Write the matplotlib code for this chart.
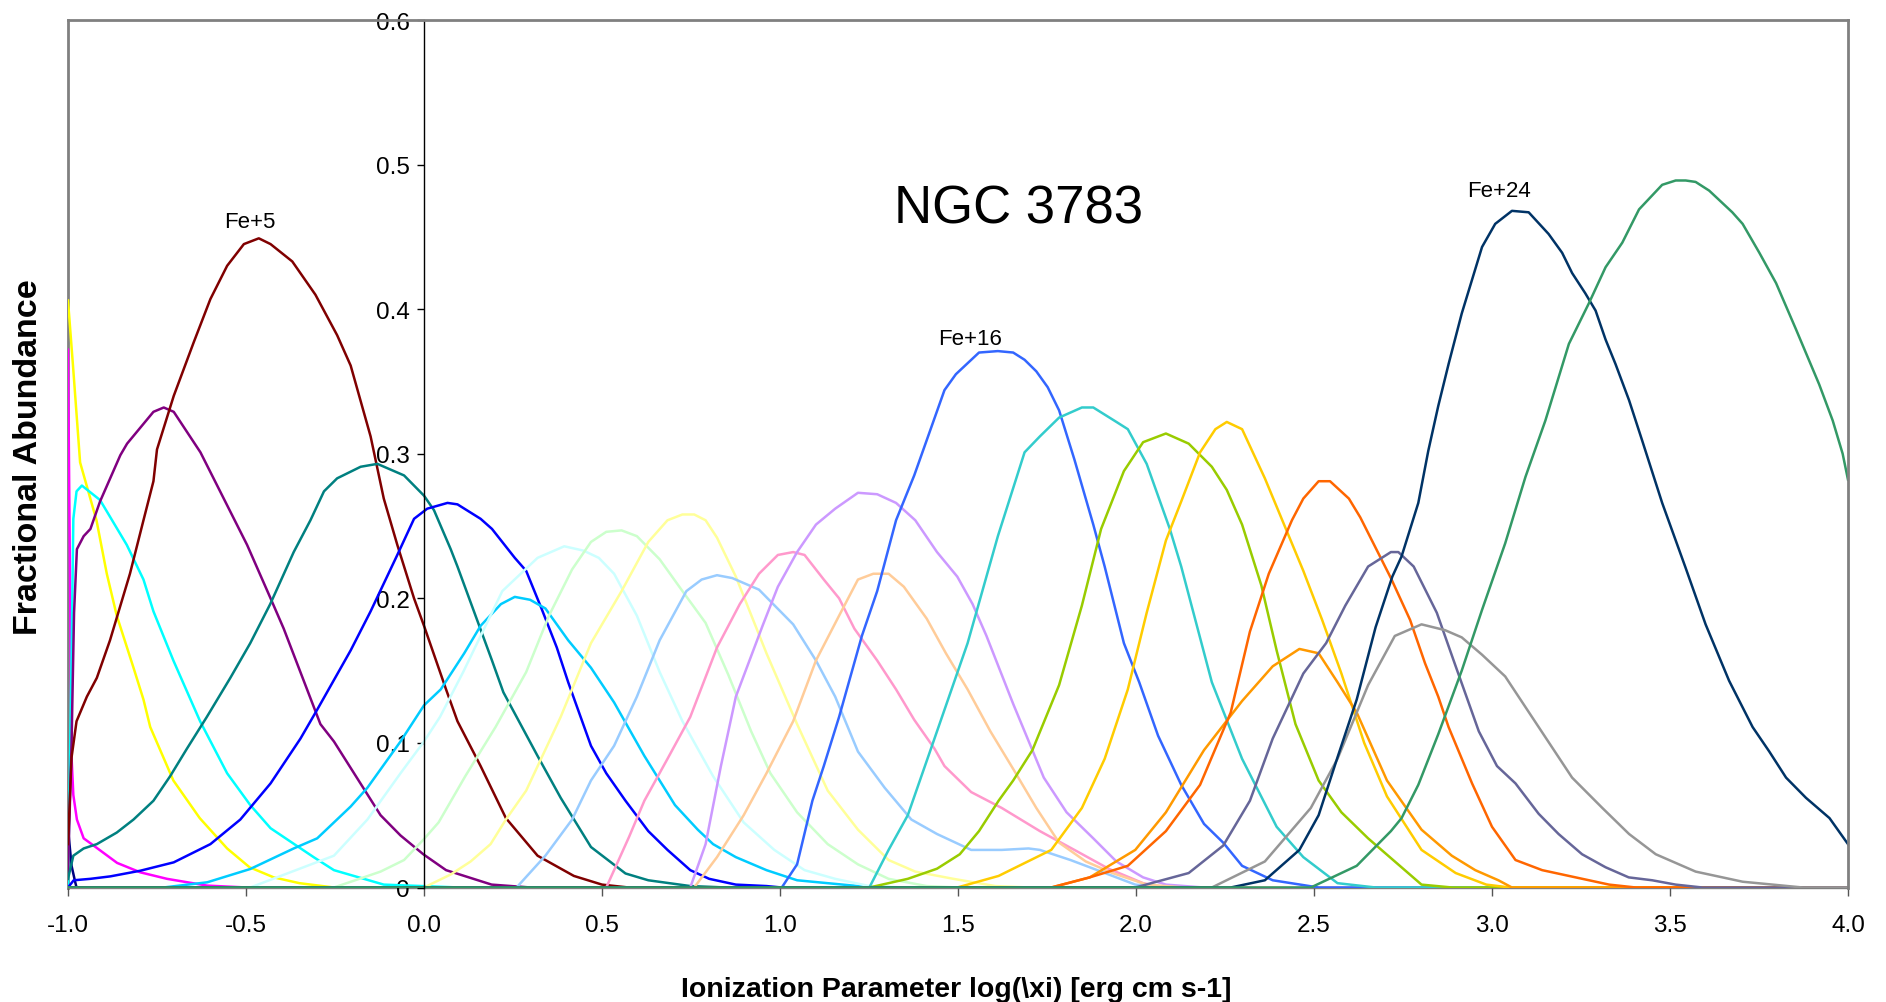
import numpy as np
import matplotlib
matplotlib.use("Agg")
import matplotlib.pyplot as plt
from matplotlib import font_manager

# ---- ion fractions of Fe vs log(xi), one series per charge state ----
fe0_x = [-1.0, -0.99, -0.98, -0.976, 4.0]
fe0_y = [0.041, 0.015, 0.004, 0.0, 0.0]

fe1_x = [-1.0, -0.99, -0.985, -0.975, -0.956, -0.928, -0.862, -0.797, -0.722, -0.609, -0.497, 4.0]
fe1_y = [0.372, 0.09, 0.064, 0.047, 0.034, 0.029, 0.017, 0.0105, 0.006, 0.0013, 0.0, 0.0]

fe2_x = [-1.0, -0.986, -0.966, -0.92, -0.891, -0.863, -0.816, -0.788, -0.769, -0.704, -0.63,
         -0.553, -0.49, -0.422, -0.35, -0.253, 4.0]
fe2_y = [0.406, 0.361, 0.294, 0.254, 0.217, 0.188, 0.152, 0.130, 0.111, 0.074, 0.048,
         0.027, 0.014, 0.007, 0.003, 0.0, 0.0]

fe3_x = [-1.0, -0.99, -0.985, -0.976, -0.961, -0.91, -0.835, -0.788, -0.76, -0.704, -0.629,
         -0.553, -0.488, -0.431, -0.31, -0.253, -0.113, 0.1, 4.0]
fe3_y = [0.0, 0.16, 0.255, 0.274, 0.278, 0.268, 0.237, 0.213, 0.191, 0.157, 0.115,
         0.079, 0.057, 0.041, 0.021, 0.012, 0.002, 0.0, 0.0]

fe4_x = [-1.0, -0.99, -0.983, -0.975, -0.956, -0.937, -0.91, -0.853, -0.834, -0.76, -0.731,
         -0.703, -0.628, -0.497, -0.431, -0.394, -0.291, -0.253, -0.122, -0.066, -0.002,
         0.062, 0.19, 0.3, 4.0]
fe4_y = [0.01, 0.1, 0.19, 0.234, 0.243, 0.248, 0.267, 0.299, 0.307, 0.329, 0.332,
         0.329, 0.301, 0.237, 0.2, 0.179, 0.113, 0.101, 0.05, 0.036, 0.023,
         0.012, 0.002, 0.0, 0.0]

fe5_x = [-1.0, -0.99, -0.976, -0.947, -0.919, -0.882, -0.826, -0.788, -0.76, -0.75, -0.703,
         -0.647, -0.6, -0.553, -0.506, -0.464, -0.431, -0.37, -0.305, -0.244, -0.206, -0.15,
         -0.113, -0.075, -0.028, 0.0, 0.062, 0.094, 0.159, 0.23, 0.319, 0.421, 0.5, 0.575, 4.0]
fe5_y = [0.03, 0.09, 0.115, 0.132, 0.145, 0.171, 0.217, 0.254, 0.281, 0.303, 0.34,
         0.377, 0.407, 0.43, 0.445, 0.449, 0.445, 0.433, 0.41, 0.382, 0.361, 0.312,
         0.269, 0.237, 0.2, 0.181, 0.137, 0.115, 0.084, 0.048, 0.022, 0.008, 0.002, 0.0, 0.0]

fe6_x = [-1.0, -0.985, -0.956, -0.919, -0.863, -0.816, -0.76, -0.713, -0.666, -0.61, -0.544,
         -0.488, -0.432, -0.366, -0.319, -0.281, -0.244, -0.178, -0.131, -0.056, 0.0, 0.028,
         0.075, 0.094, 0.191, 0.223, 0.319, 0.384, 0.469, 0.566, 0.63, 0.748, 0.85, 4.0]
fe6_y = [0.006, 0.022, 0.027, 0.030, 0.038, 0.047, 0.06, 0.077, 0.096, 0.118, 0.145,
         0.169, 0.196, 0.232, 0.254, 0.274, 0.283, 0.291, 0.293, 0.285, 0.271, 0.261,
         0.234, 0.222, 0.157, 0.135, 0.091, 0.062, 0.028, 0.0097, 0.005, 0.001, 0.0, 0.0]

fe7_x = [-1.0, -0.984, -0.937, -0.881, -0.797, -0.703, -0.6, -0.516, -0.431, -0.347, -0.3,
         -0.206, -0.15, -0.075, -0.028, 0.009, 0.066, 0.094, 0.159, 0.191, 0.223, 0.255,
         0.287, 0.33, 0.373, 0.405, 0.469, 0.512, 0.566, 0.63, 0.684, 0.748, 0.801, 0.876,
         0.962, 1.005, 4.0]
fe7_y = [0.0, 0.005, 0.006, 0.0077, 0.0116, 0.0174, 0.03, 0.047, 0.072, 0.103, 0.123,
         0.164, 0.191, 0.23, 0.255, 0.262, 0.266, 0.265, 0.255, 0.248, 0.238, 0.228,
         0.219, 0.193, 0.166, 0.142, 0.098, 0.079, 0.06, 0.039, 0.026, 0.012, 0.006, 0.002,
         0.001, 0.0, 0.0]

fe8_x = [-1.0, -0.732, -0.609, -0.488, -0.366, -0.3, -0.206, -0.159, -0.066, 0.0, 0.047,
         0.113, 0.159, 0.216, 0.255, 0.298, 0.341, 0.405, 0.469, 0.534, 0.619, 0.705, 0.769,
         0.812, 0.876, 0.962, 1.048, 1.219, 1.33, 4.0]
fe8_y = [0.0, 0.0, 0.0036, 0.0128, 0.027, 0.034, 0.056, 0.069, 0.101, 0.126, 0.137,
         0.162, 0.181, 0.196, 0.201, 0.199, 0.193, 0.171, 0.152, 0.128, 0.091, 0.057, 0.04,
         0.03, 0.021, 0.012, 0.005, 0.001, 0.0, 0.0]

fe9_x = [-1.0, -0.488, -0.253, -0.159, -0.066, 0.0, 0.045, 0.11, 0.22, 0.319, 0.394, 0.448,
         0.491, 0.534, 0.598, 0.662, 0.726, 0.812, 0.898, 0.984, 1.069, 1.155, 1.251, 1.35, 4.0]
fe9_y = [0.0, 0.0, 0.022, 0.047, 0.079, 0.101, 0.118, 0.149, 0.205, 0.228, 0.236, 0.233,
         0.228, 0.217, 0.188, 0.149, 0.115, 0.077, 0.045, 0.026, 0.012, 0.006, 0.001, 0.0, 0.0]

fe10_x = [-1.0, -0.253, -0.122, -0.056, -0.002, 0.041, 0.116, 0.201, 0.287, 0.351, 0.416,
          0.469, 0.512, 0.555, 0.598, 0.662, 0.726, 0.791, 0.855, 0.919, 0.973, 1.048, 1.134,
          1.219, 1.305, 1.412, 1.5, 4.0]
fe10_y = [0.0, 0.0, 0.011, 0.019, 0.033, 0.045, 0.077, 0.111, 0.149, 0.188, 0.22,
          0.239, 0.246, 0.247, 0.243, 0.227, 0.205, 0.183, 0.147, 0.108, 0.079, 0.052, 0.03,
          0.016, 0.006, 0.001, 0.0, 0.0]

fe11_x = [-1.0, 0.0, 0.075, 0.131, 0.187, 0.23, 0.287, 0.384, 0.469, 0.555, 0.63, 0.684,
          0.726, 0.759, 0.791, 0.823, 0.876, 0.962, 1.048, 1.134, 1.219, 1.305, 1.38, 1.487,
          1.605, 1.7, 4.0]
fe11_y = [0.0, 0.0, 0.009, 0.018, 0.030, 0.047, 0.067, 0.118, 0.169, 0.205, 0.239, 0.254,
          0.258, 0.258, 0.254, 0.242, 0.215, 0.162, 0.113, 0.067, 0.04, 0.019, 0.011, 0.006,
          0.001, 0.0, 0.0]

fe12_x = [-1.0, 0.26, 0.341, 0.416, 0.469, 0.534, 0.598, 0.662, 0.737, 0.78, 0.823, 0.866,
          0.941, 1.037, 1.101, 1.155, 1.219, 1.294, 1.369, 1.441, 1.537, 1.623, 1.698, 1.73,
          1.816, 1.902, 1.998, 2.08, 4.0]
fe12_y = [0.0, 0.0, 0.022, 0.047, 0.074, 0.098, 0.132, 0.171, 0.205, 0.213, 0.216, 0.214,
          0.206, 0.182, 0.157, 0.132, 0.094, 0.069, 0.047, 0.037, 0.026, 0.026, 0.027, 0.026,
          0.019, 0.011, 0.002, 0.0, 0.0]

fe13_x = [-1.0, 0.512, 0.576, 0.619, 0.684, 0.748, 0.823, 0.887, 0.941, 0.994, 1.037, 1.069,
          1.123, 1.166, 1.209, 1.273, 1.326, 1.377, 1.434, 1.462, 1.537, 1.623, 1.73, 1.827,
          1.923, 2.02, 2.084, 4.0]
fe13_y = [0.0, 0.0, 0.035, 0.06, 0.089, 0.118, 0.166, 0.196, 0.217, 0.23, 0.232, 0.23,
          0.213, 0.2, 0.179, 0.157, 0.137, 0.116, 0.096, 0.084, 0.066, 0.055, 0.039, 0.026,
          0.013, 0.003, 0.0, 0.0]

fe14_x = [-1.0, 0.748, 0.791, 0.834, 0.876, 0.951, 0.994, 1.048, 1.101, 1.155, 1.219, 1.273,
          1.326, 1.38, 1.441, 1.498, 1.541, 1.58, 1.655, 1.741, 1.805, 1.88, 1.945, 2.02, 2.084,
          2.19, 4.0]
fe14_y = [0.0, 0.0, 0.03, 0.084, 0.132, 0.181, 0.208, 0.232, 0.251, 0.262, 0.273, 0.272,
          0.266, 0.254, 0.232, 0.215, 0.196, 0.174, 0.127, 0.076, 0.052, 0.034, 0.018, 0.007,
          0.002, 0.0, 0.0]

fe15_x = [-1.0, 0.759, 0.823, 0.898, 0.962, 1.037, 1.101, 1.166, 1.219, 1.262, 1.305, 1.348,
          1.412, 1.466, 1.527, 1.591, 1.655, 1.72, 1.784, 1.859, 1.934, 2.03, 2.137, 4.0]
fe15_y = [0.0, 0.0, 0.021, 0.05, 0.079, 0.115, 0.157, 0.188, 0.213, 0.217, 0.217, 0.208,
          0.186, 0.162, 0.137, 0.108, 0.082, 0.055, 0.031, 0.018, 0.01, 0.002, 0.0, 0.0]

fe16_x = [-1.0, 1.005, 1.048, 1.091, 1.123, 1.166, 1.23, 1.273, 1.326, 1.377, 1.462, 1.494,
          1.559, 1.612, 1.655, 1.687, 1.72, 1.752, 1.784, 1.827, 1.88, 1.912, 1.966, 2.009,
          2.062, 2.127, 2.191, 2.245, 2.298, 2.384, 2.513, 4.0]
fe16_y = [0.0, 0.0, 0.016, 0.06, 0.084, 0.118, 0.174, 0.205, 0.254, 0.285, 0.344, 0.355,
          0.37, 0.371, 0.37, 0.365, 0.357, 0.346, 0.33, 0.296, 0.251, 0.222, 0.169, 0.142,
          0.105, 0.071, 0.044, 0.031, 0.015, 0.005, 0.0, 0.0]

fe17_x = [-1.0, 1.251, 1.305, 1.359, 1.441, 1.527, 1.612, 1.687, 1.73, 1.784, 1.848, 1.88,
          1.945, 1.977, 2.03, 2.095, 2.127, 2.213, 2.298, 2.395, 2.47, 2.566, 2.673, 4.0]
fe17_y = [0.0, 0.0, 0.026, 0.05, 0.108, 0.169, 0.243, 0.301, 0.312, 0.325, 0.332, 0.332,
          0.322, 0.317, 0.293, 0.248, 0.222, 0.142, 0.089, 0.042, 0.021, 0.003, 0.0, 0.0]

fe18_x = [-1.0, 1.251, 1.359, 1.441, 1.505, 1.559, 1.614, 1.655, 1.709, 1.784, 1.848, 1.902,
          1.966, 2.02, 2.084, 2.148, 2.213, 2.255, 2.298, 2.352, 2.395, 2.448, 2.513, 2.577,
          2.652, 2.727, 2.802, 2.888, 4.0]
fe18_y = [0.0, 0.0, 0.006, 0.013, 0.023, 0.039, 0.06, 0.074, 0.095, 0.14, 0.195, 0.248,
          0.288, 0.308, 0.314, 0.307, 0.291, 0.275, 0.251, 0.209, 0.164, 0.113, 0.074, 0.052,
          0.034, 0.018, 0.002, 0.0, 0.0]

fe19_x = [-1.0, 1.498, 1.614, 1.655, 1.762, 1.848, 1.912, 1.977, 2.03, 2.084, 2.127, 2.18,
          2.223, 2.255, 2.298, 2.362, 2.416, 2.47, 2.523, 2.577, 2.641, 2.705, 2.802, 2.898,
          2.984, 3.05, 4.0]
fe19_y = [0.0, 0.0, 0.008, 0.013, 0.026, 0.055, 0.089, 0.137, 0.19, 0.24, 0.267, 0.301,
          0.317, 0.322, 0.317, 0.283, 0.251, 0.219, 0.185, 0.148, 0.1, 0.063, 0.026, 0.01,
          0.002, 0.0, 0.0]

fe20_x = [-1.0, 1.762, 1.87, 1.998, 2.084, 2.191, 2.298, 2.384, 2.459, 2.513, 2.566, 2.62,
          2.705, 2.802, 2.887, 2.953, 3.018, 3.056, 4.0]
fe20_y = [0.0, 0.0, 0.007, 0.026, 0.052, 0.095, 0.129, 0.153, 0.165, 0.162, 0.142, 0.121,
          0.074, 0.04, 0.022, 0.012, 0.005, 0.0, 0.0]

fe21_x = [-1.0, 1.762, 1.87, 1.977, 2.084, 2.18, 2.266, 2.32, 2.373, 2.438, 2.47, 2.513,
          2.545, 2.598, 2.63, 2.673, 2.716, 2.77, 2.812, 2.849, 2.878, 2.944, 3.0, 3.066,
          3.141, 3.235, 3.329, 3.404, 4.0]
fe21_y = [0.0, 0.0, 0.007, 0.015, 0.039, 0.071, 0.121, 0.177, 0.217, 0.254, 0.269, 0.281,
          0.281, 0.269, 0.256, 0.235, 0.214, 0.185, 0.155, 0.132, 0.111, 0.072, 0.042, 0.019,
          0.012, 0.007, 0.002, 0.0, 0.0]

fe22_x = [-1.0, 1.998, 2.148, 2.245, 2.32, 2.384, 2.47, 2.534, 2.588, 2.652, 2.716, 2.737,
          2.78, 2.845, 2.898, 2.963, 3.014, 3.066, 3.131, 3.187, 3.253, 3.319, 3.384, 3.45,
          3.516, 3.591, 4.0]
fe22_y = [0.0, 0.0, 0.01, 0.029, 0.06, 0.103, 0.148, 0.169, 0.195, 0.222, 0.232, 0.232,
          0.222, 0.19, 0.153, 0.108, 0.084, 0.072, 0.051, 0.037, 0.023, 0.014, 0.007, 0.005,
          0.002, 0.0, 0.0]

fe23_x = [-1.0, 2.213, 2.362, 2.491, 2.566, 2.652, 2.727, 2.802, 2.868, 2.915, 2.972, 3.037,
          3.131, 3.225, 3.31, 3.385, 3.46, 3.572, 3.704, 3.873, 4.0]
fe23_y = [0.0, 0.0, 0.018, 0.055, 0.089, 0.14, 0.174, 0.182, 0.178, 0.173, 0.161, 0.146,
          0.111, 0.076, 0.055, 0.037, 0.023, 0.011, 0.004, 0.0, 0.0]

fe24_x = [-1.0, 2.266, 2.362, 2.459, 2.513, 2.566, 2.62, 2.673, 2.72, 2.746, 2.793, 2.821,
          2.849, 2.878, 2.915, 2.972, 3.009, 3.056, 3.103, 3.159, 3.197, 3.225, 3.262, 3.291,
          3.319, 3.347, 3.385, 3.422, 3.478, 3.544, 3.6, 3.666, 3.732, 3.779, 3.826, 3.882,
          3.948, 4.0]
fe24_y = [0.0, 0.0, 0.005, 0.026, 0.05, 0.09, 0.13, 0.18, 0.215, 0.229, 0.266, 0.302,
          0.333, 0.362, 0.397, 0.443, 0.459, 0.468, 0.467, 0.452, 0.439, 0.425, 0.411, 0.399,
          0.379, 0.362, 0.337, 0.309, 0.266, 0.221, 0.182, 0.143, 0.111, 0.094, 0.076, 0.062,
          0.048, 0.03]

fe25_x = [-1.0, 2.491, 2.62, 2.716, 2.746, 2.793, 2.849, 2.915, 2.972, 3.037, 3.094, 3.15,
          3.216, 3.272, 3.319, 3.366, 3.413, 3.478, 3.516, 3.544, 3.572, 3.61, 3.675, 3.704,
          3.751, 3.798, 3.854, 3.919, 3.957, 3.985, 4.0]
fe25_y = [0.0, 0.0, 0.015, 0.039, 0.048, 0.071, 0.106, 0.15, 0.192, 0.238, 0.284, 0.323,
          0.376, 0.404, 0.429, 0.446, 0.469, 0.486, 0.489, 0.489, 0.488, 0.482, 0.467, 0.459,
          0.439, 0.418, 0.386, 0.348, 0.323, 0.3, 0.282]

series_x = [fe0_x, fe1_x, fe2_x, fe3_x, fe4_x, fe5_x, fe6_x, fe7_x, fe8_x, fe9_x, fe10_x,
            fe11_x, fe12_x, fe13_x, fe14_x, fe15_x, fe16_x, fe17_x, fe18_x, fe19_x, fe20_x,
            fe21_x, fe22_x, fe23_x, fe24_x, fe25_x]
series_y = [fe0_y, fe1_y, fe2_y, fe3_y, fe4_y, fe5_y, fe6_y, fe7_y, fe8_y, fe9_y, fe10_y,
            fe11_y, fe12_y, fe13_y, fe14_y, fe15_y, fe16_y, fe17_y, fe18_y, fe19_y, fe20_y,
            fe21_y, fe22_y, fe23_y, fe24_y, fe25_y]

# spreadsheet-style default series colours, Fe+0 ... Fe+25
colors = ["#000080", "#FF00FF", "#FFFF00", "#00FFFF", "#800080", "#800000", "#008080",
          "#0000FF", "#00CCFF", "#CCFFFF", "#CCFFCC", "#FFFF99", "#99CCFF", "#FF99CC",
          "#CC99FF", "#FFCC99", "#3366FF", "#33CCCC", "#99CC00", "#FFCC00", "#FF9900",
          "#FF6600", "#666699", "#969696", "#003366", "#339966"]

xticks = [-1.0, -0.5, 0.0, 0.5, 1.0, 1.5, 2.0, 2.5, 3.0, 3.5, 4.0]
xtick_labels = ["-1.0", "-0.5", "0.0", "0.5", "1.0", "1.5", "2.0", "2.5", "3.0", "3.5", "4.0"]
yticks = [0.0, 0.1, 0.2, 0.3, 0.4, 0.5, 0.6]
ytick_labels = ["0", "0.1", "0.2", "0.3", "0.4", "0.5", "0.6"]

# labelled ions: (text, x, y)
ion_labels = [("Fe+5", -0.49, 0.457), ("Fe+16", 1.534, 0.376), ("Fe+24", 3.02, 0.478)]

# ---- fonts (narrow face if the system has it) ----
names = {f.name for f in font_manager.fontManager.ttflist}
narrow = "Liberation Sans Narrow" in names
base_font = "Liberation Sans"
small_font = "Liberation Sans Narrow" if narrow else base_font
tick_size = 18 if narrow else 17.5
ion_size = 18 if narrow else 16
xlab_size = 23 if narrow else 20.5

plt.rcParams["font.family"] = [base_font, "DejaVu Sans"]
plt.rcParams["axes.unicode_minus"] = False

fig = plt.figure(figsize=(18.86, 10.03), dpi=100)
ax = fig.add_axes([68 / 1886, 1 - 888.5 / 1003, 1780 / 1886, 867.5 / 1003])

for xs, ys, c in zip(series_x, series_y, colors):
    ax.plot(xs, ys, color=c, lw=1.8, solid_joinstyle="round")

ax.set_xlim(-1.0, 4.0)
ax.set_ylim(0.0, 0.6)

# y axis sits at log(xi) = 0, gray frame around the plot area
ax.spines["left"].set_position(("data", 0.0))
ax.spines["left"].set_color("black")
ax.spines["left"].set_linewidth(1.0)
ax.spines["bottom"].set_color("#808080")
ax.spines["bottom"].set_linewidth(1.0)
ax.spines["bottom"].set_zorder(0)
for side in ("top", "right"):
    ax.spines[side].set_color("#808080")
    ax.spines[side].set_linewidth(2.0)
ax.plot([0, 0], [0, 1], transform=ax.transAxes, color="#808080", lw=2.0, clip_on=False, zorder=0.5)

ax.set_xticks(xticks)
ax.set_xticklabels(xtick_labels, fontfamily=small_font, fontsize=tick_size)
ax.set_yticks(yticks)
ax.set_yticklabels(ytick_labels, fontfamily=small_font, fontsize=tick_size)
ax.tick_params(axis="x", direction="out", length=6, width=1, color="#555555", pad=13)
ax.tick_params(axis="y", direction="out", length=5, width=1, color="black", pad=5)

for txt, x, y in ion_labels:
    ax.text(x, y, txt, ha="center", va="baseline", fontfamily=small_font, fontsize=ion_size)

ax.text(1.671, 0.46, "NGC 3783", ha="center", va="baseline", fontsize=38)

fig.text(956 / 1886, 1 - 997 / 1003, r"Ionization Parameter log(\xi) [erg cm s-1]",
         ha="center", va="baseline", fontfamily=small_font, fontweight="bold", fontsize=xlab_size)
fig.text(0.0150, 1 - 456.7 / 1003, "Fractional Abundance", rotation=90,
         ha="center", va="center", fontweight="bold", fontsize=24.5)

fig.savefig("out.png", dpi=100)
